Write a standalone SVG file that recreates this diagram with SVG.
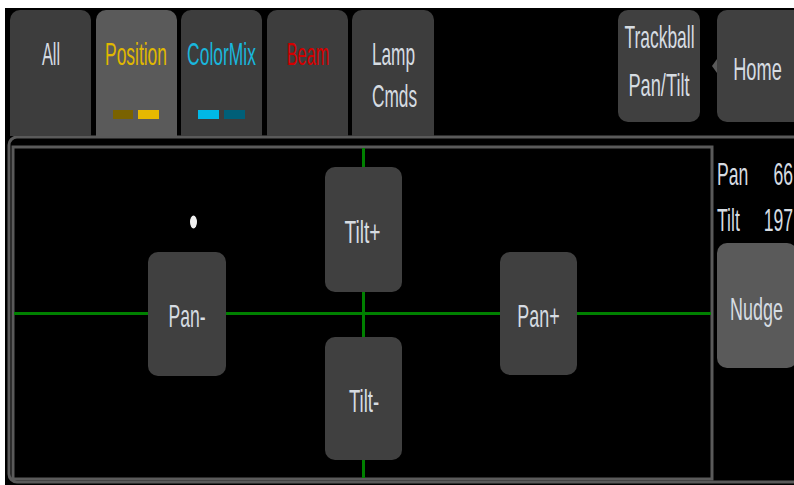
<svg xmlns="http://www.w3.org/2000/svg" width="794" height="485" viewBox="0 0 794 485">
<style>
.bg{fill:#000}
.tab{fill:#3d3d3d}
.sel{fill:#5a5a5a}
.btn{fill:#404040}
.lbl{font-family:"Liberation Sans",Arial,sans-serif;font-size:32px;fill:#d6dce2;text-anchor:middle}
.lft{text-anchor:start}
.rgt{text-anchor:end}
.frame{fill:none;stroke:#5a5a5a;stroke-width:3}
.green{stroke:#008000;stroke-width:3}
</style>
<rect x="0" y="0" width="794" height="485" fill="#fff"/>
<rect class="bg" x="5" y="8" width="789" height="477"/>
<g id="panel">
<rect class="frame" x="9" y="137" width="800" height="345" rx="8"/>
<rect class="frame" x="13" y="147" width="699" height="332"/>
</g>
<g id="tab-all">
<path class="tab" d="M10 136V20a10 10 0 0 1 10-10h61a10 10 0 0 1 10 10v116z"/>
<text class="lbl" transform="translate(51 65) scale(0.51 1)">All</text>
</g>
<g id="tab-position">
<path class="sel" d="M96 138V20a10 10 0 0 1 10-10h61a10 10 0 0 1 10 10v118z"/>
<text class="lbl" transform="translate(136 65) scale(0.545 1)" style="fill:#e0b800">Position</text>
<rect x="113" y="110" width="20" height="9" fill="#7a6200"/>
<rect x="138" y="110" width="21" height="9" fill="#e6b800"/>
</g>
<g id="tab-colormix">
<path class="tab" d="M181 136V20a10 10 0 0 1 10-10h61a10 10 0 0 1 10 10v116z"/>
<text class="lbl" transform="translate(221.5 65) scale(0.545 1)" style="fill:#19b6dc">ColorMix</text>
<rect x="198" y="110" width="21" height="9" fill="#00b8e6"/>
<rect x="224" y="110" width="21" height="9" fill="#005f78"/>
</g>
<g id="tab-beam">
<path class="tab" d="M267 136V20a10 10 0 0 1 10-10h61a10 10 0 0 1 10 10v116z"/>
<text class="lbl" transform="translate(308 65) scale(0.51 1)" style="fill:#d40000">Beam</text>
</g>
<g id="tab-lamp">
<path class="tab" d="M352 136V20a10 10 0 0 1 10-10h62a10 10 0 0 1 10 10v116z"/>
<text class="lbl" transform="translate(393.5 65) scale(0.54 1)">Lamp</text>
<text class="lbl" transform="translate(394.5 107) scale(0.54 1)">Cmds</text>
</g>
<g id="btn-trackball">
<rect class="btn" x="618" y="10" width="82" height="112" rx="10"/>
<text class="lbl" transform="translate(659.5 48) scale(0.545 1)">Trackball</text>
<text class="lbl" transform="translate(659 96) scale(0.57 1)">Pan/Tilt</text>
</g>
<g id="btn-home">
<path d="M717 59l-5 7 5 7z" fill="#5a5a5a"/>
<rect class="btn" x="717" y="10" width="90" height="112" rx="10"/>
<text class="lbl" transform="translate(757.5 80) scale(0.57 1)">Home</text>
</g>
<g id="readout">
<text class="lbl lft" transform="translate(717 185) scale(0.55 1)">Pan</text>
<text class="lbl rgt" transform="translate(793 185) scale(0.55 1)">66</text>
<text class="lbl lft" transform="translate(717 231) scale(0.55 1)">Tilt</text>
<text class="lbl rgt" transform="translate(793 231) scale(0.55 1)">197</text>
</g>
<g id="btn-nudge">
<rect class="sel" x="717" y="243" width="80" height="125" rx="10"/>
<text class="lbl" transform="translate(756.5 320) scale(0.56 1)">Nudge</text>
</g>
<g id="connectors">
<line class="green" x1="14" y1="313.5" x2="711" y2="313.5"/>
<line class="green" x1="363.5" y1="148" x2="363.5" y2="478"/>
</g>
<g id="cursor">
<ellipse cx="193.5" cy="222" rx="3.5" ry="6.5" fill="#f0f0f0"/>
</g>
<g id="btn-pan-minus">
<rect class="btn" x="148" y="252" width="78" height="124" rx="10"/>
<text class="lbl" transform="translate(187 327) scale(0.55 1)">Pan-</text>
</g>
<g id="btn-tilt-plus">
<rect class="btn" x="325" y="167" width="77" height="125" rx="10"/>
<text class="lbl" transform="translate(362.5 243) scale(0.6 1)">Tilt+</text>
</g>
<g id="btn-tilt-minus">
<rect class="btn" x="325" y="337" width="77" height="123" rx="10"/>
<text class="lbl" transform="translate(364 412) scale(0.58 1)">Tilt-</text>
</g>
<g id="btn-pan-plus">
<rect class="btn" x="500" y="252" width="77" height="123" rx="10"/>
<text class="lbl" transform="translate(538.5 327) scale(0.56 1)">Pan+</text>
</g>
</svg>
